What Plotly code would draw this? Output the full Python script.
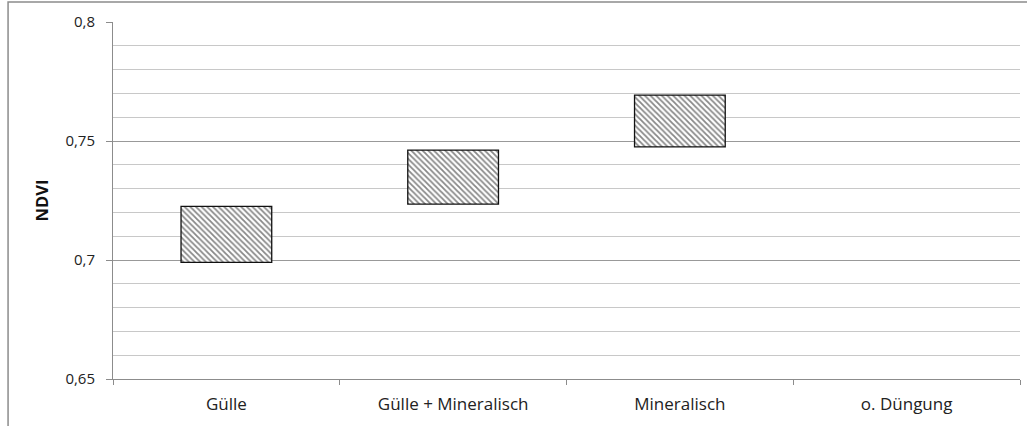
import plotly.graph_objects as go

# NDVI range per fertilisation variant (floating bars: low .. high)
categories = ["Gülle", "Gülle + Mineralisch", "Mineralisch", "o. Düngung"]
ndvi_low = [0.699, 0.7235, 0.7475, None]
ndvi_high = [0.7225, 0.7462, 0.7693, None]

y_tick_vals = [0.65, 0.7, 0.75, 0.8]
y_tick_text = ["0,65", "0,7", "0,75", "0,8"]

spans = [None if lo is None else hi - lo for lo, hi in zip(ndvi_low, ndvi_high)]

fig = go.Figure(
    go.Bar(
        x=categories,
        y=spans,
        base=ndvi_low,
        width=0.4,
        marker=dict(
            color="white",
            line=dict(color="#111111", width=1.3),
            pattern=dict(shape="\\", fgcolor="#111111", bgcolor="white",
                         size=4, solidity=0.45),
        ),
        hoverinfo="skip",
    )
)

font_family = "Open Sans, Noto Sans, sans-serif"

fig.update_layout(
    width=1027,
    height=426,
    margin=dict(l=113, r=7, t=22, b=47),
    paper_bgcolor="white",
    plot_bgcolor="white",
    showlegend=False,
    font=dict(family=font_family, size=14, color="#222222"),
    xaxis=dict(
        type="category",
        tickson="boundaries",
        ticks="outside",
        ticklen=5,
        tickcolor="#8c8c8c",
        ticklabelstandoff=10,
        showline=True,
        linecolor="#8c8c8c",
        linewidth=1,
        showgrid=False,
        tickfont=dict(size=17, color="#222222"),
        fixedrange=True,
    ),
    yaxis=dict(
        range=[0.65, 0.8],
        tickvals=y_tick_vals,
        ticktext=y_tick_text,
        ticks="outside",
        ticklen=6,
        tickcolor="#8c8c8c",
        ticklabelstandoff=8,
        showline=True,
        linecolor="#8c8c8c",
        linewidth=1,
        showgrid=True,
        gridcolor="#999999",
        gridwidth=1,
        zeroline=False,
        minor=dict(dtick=0.01, showgrid=True, gridcolor="#c8c8c8",
                   gridwidth=1, ticks=""),
        tickfont=dict(size=15, color="#222222"),
        title=dict(text="<b>NDVI</b>", font=dict(size=16.5, color="#111111"),
                   standoff=12),
        fixedrange=True,
    ),
)

# outer chart frame (left and top edges)
fig.add_shape(
    type="path",
    xref="paper", yref="paper",
    path="M -0.1157,-0.15 L -0.1157,1.056 L 1.01,1.056",
    line=dict(color="#8c8c8c", width=1.5),
)

fig.write_html("out.html")
